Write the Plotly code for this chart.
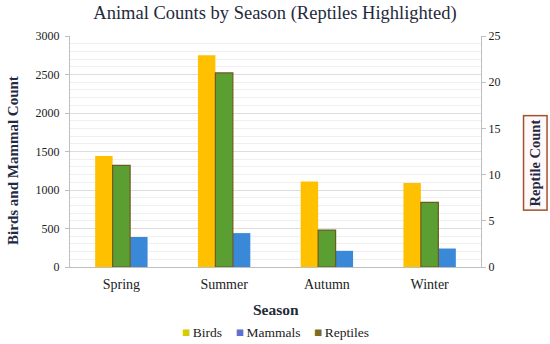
import plotly.graph_objects as go

seasons = ["Spring", "Summer", "Autumn", "Winter"]
birds = [1440, 2750, 1110, 1090]
mammals = [390, 440, 210, 240]
reptiles = [11, 21, 4, 7]
left_ticks = [0, 500, 1000, 1500, 2000, 2500, 3000]
right_ticks = [0, 5, 10, 15, 20, 25]

FONT = "Liberation Serif"
BIRD_C, REP_C, REP_LINE, MAM_C = "#FFC000", "#5B9E31", "#6E5A1E", "#3A88D8"

fig = go.Figure()
fig.add_trace(go.Bar(x=seasons, y=birds, name="Birds", offsetgroup="1",
                     marker=dict(color=BIRD_C, line=dict(width=0))))
fig.add_trace(go.Bar(x=seasons, y=reptiles, name="Reptiles", offsetgroup="2",
                     yaxis="y2",
                     marker=dict(color=REP_C, line=dict(color=REP_LINE, width=1.2))))
fig.add_trace(go.Bar(x=seasons, y=mammals, name="Mammals", offsetgroup="3",
                     marker=dict(color=MAM_C, line=dict(width=0))))

gap = "\u2003"
thin = "\u2009"
legend_text = (f"<span style='color:#D4CC00'>■</span>{thin}Birds{gap}"
               f"<span style='color:#5F6FD0'>■</span>{thin}Mammals{gap}"
               f"<span style='color:#7A6E1E'>■</span>{thin}Reptiles")

fig.update_layout(
    width=550, height=344,
    margin=dict(l=70, r=69, t=36, b=77, autoexpand=False),
    paper_bgcolor="white", plot_bgcolor="white",
    barmode="group", bargap=0.49, bargroupgap=0,
    showlegend=False,
    font=dict(family=FONT, color="#333333"),
    title=dict(text="Animal Counts by Season (Reptiles Highlighted)",
               x=0.5, xanchor="center", y=0.965, yanchor="middle",
               font=dict(family=FONT, size=18.5, color="#1F2A3A")),
    xaxis=dict(showline=True, linecolor="#BFBFBF", linewidth=1, automargin=False,
               ticks="", ticklabelstandoff=4, tickfont=dict(size=14, color="#222222")),
    yaxis=dict(range=[0, 3000], tickvals=left_ticks, automargin=False,
               showline=True, linecolor="#BFBFBF", linewidth=1,
               ticks="outside", ticklen=4, tickcolor="#BFBFBF", ticklabelstandoff=3,
               gridcolor="#DDDDDD", gridwidth=1, zeroline=False,
               minor=dict(dtick=100, showgrid=True, gridcolor="#EFEFEF", ticks=""),
               tickfont=dict(size=12, color="#222222")),
    yaxis2=dict(range=[0, 25], tickvals=right_ticks, overlaying="y", side="right",
                automargin=False,
                showline=True, linecolor="#BFBFBF", linewidth=1,
                ticks="outside", ticklen=4, tickcolor="#BFBFBF",
                showgrid=False, zeroline=False,
                tickfont=dict(size=12, color="#222222")),
    annotations=[
        dict(text="<b>Birds and Mammal Count</b>", textangle=-90,
             xref="paper", yref="paper", x=-0.139, y=0.463,
             xanchor="center", yanchor="middle", showarrow=False,
             font=dict(family=FONT, size=15, color="#1F2A44")),
        dict(text="<b>Season</b>",
             xref="paper", yref="paper", x=0.5, y=-0.186,
             xanchor="center", yanchor="middle", showarrow=False,
             font=dict(family=FONT, size=15.5, color="#1F2A3A")),
        dict(text=legend_text,
             xref="paper", yref="paper", x=0.5, y=-0.283,
             xanchor="center", yanchor="middle", showarrow=False,
             font=dict(family=FONT, size=13.5, color="#222222")),
        dict(text="<b>Reptile Count</b>", textangle=-90,
             xref="paper", yref="paper", x=1.131, y=0.45,
             xanchor="center", yanchor="middle", showarrow=False,
             font=dict(family=FONT, size=14.5, color="#1F2A44"),
             bordercolor="#A0522D", borderwidth=1.5, borderpad=3,
             bgcolor="#FFF8F8"),
    ],
)

fig.write_html("out.html", config={"displayModeBar": False},
               post_script="document.body.style.margin='0';document.body.style.overflow='hidden';")
